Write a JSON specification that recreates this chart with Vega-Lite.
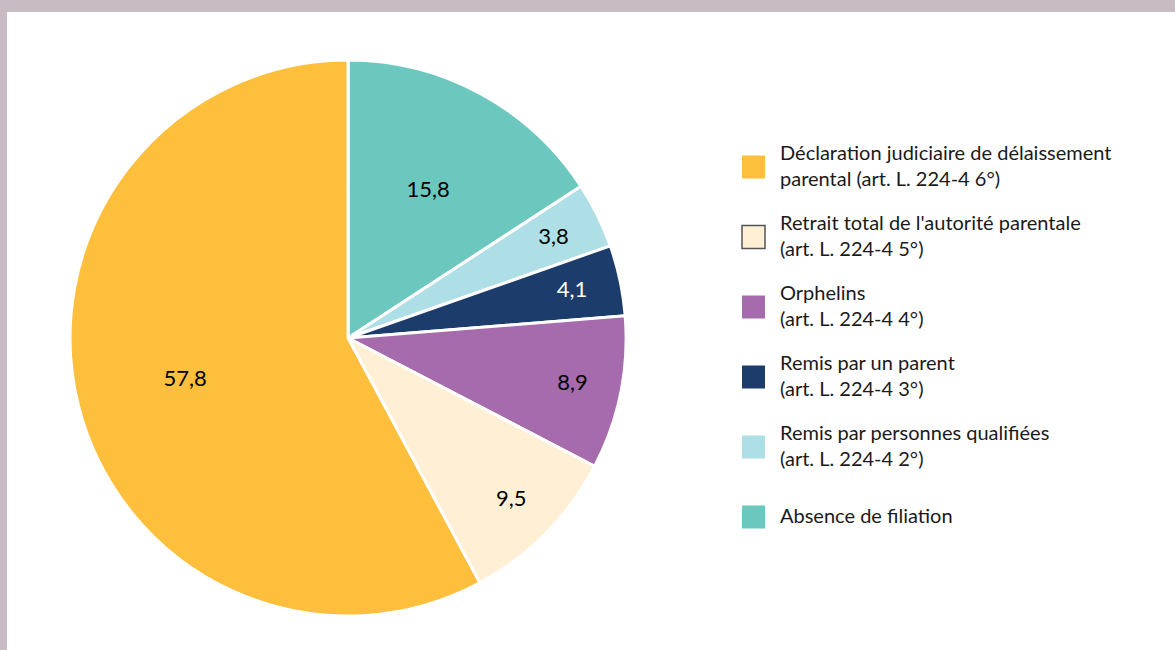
{
  "$schema": "https://vega.github.io/schema/vega-lite/v6.json",
  "width": 1168,
  "height": 638,
  "autosize": {"type": "none"},
  "padding": {"left": 7, "top": 12, "right": 0, "bottom": 0},
  "background": "#C8BBC3",
  "config": {
    "view": {"fill": "white", "stroke": null},
    "locale": {"number": {"decimal": ",", "thousands": "\u00a0", "grouping": [3], "currency": ["", " €"]}},
    "font": "Lato",
    "style": {"guide-label": {"lineHeight": 26, "dy": {"expr": "indexof(datum.label, '|') >= 0 ? -13 : 0"}}}
  },
  "data": {
    "values": [
      {"rang": 1, "categorie": "Absence de filiation", "pct": 15.8},
      {"rang": 2, "categorie": "Remis par personnes qualifiées|(art. L. 224-4 2°)", "pct": 3.8},
      {"rang": 3, "categorie": "Remis par un parent|(art. L. 224-4 3°)", "pct": 4.1},
      {"rang": 4, "categorie": "Orphelins|(art. L. 224-4 4°)", "pct": 8.9},
      {"rang": 5, "categorie": "Retrait total de l'autorité parentale|(art. L. 224-4 5°)", "pct": 9.5},
      {"rang": 6, "categorie": "Déclaration judiciaire de délaissement|parental (art. L. 224-4 6°)", "pct": 57.8}
    ]
  },
  "encoding": {
    "theta": {"field": "pct", "type": "quantitative", "stack": true},
    "order": {"field": "rang", "type": "quantitative"},
    "x": {"datum": 0.292, "type": "quantitative", "scale": {"domain": [0, 1], "nice": false, "zero": false}, "axis": null},
    "y": {"datum": 0.489, "type": "quantitative", "scale": {"domain": [0, 1], "nice": false, "zero": false}, "axis": null}
  },
  "layer": [
    {
      "mark": {"type": "arc", "outerRadius": 278, "stroke": "white", "strokeWidth": 3},
      "encoding": {
        "color": {
          "field": "categorie",
          "type": "nominal",
          "scale": {
            "domain": [
              "Déclaration judiciaire de délaissement|parental (art. L. 224-4 6°)",
              "Retrait total de l'autorité parentale|(art. L. 224-4 5°)",
              "Orphelins|(art. L. 224-4 4°)",
              "Remis par un parent|(art. L. 224-4 3°)",
              "Remis par personnes qualifiées|(art. L. 224-4 2°)",
              "Absence de filiation"
            ],
            "range": ["#FDBF3C", "#FFEFD5", "#A66BAD", "#1C3D6B", "#AEDFE6", "#6CC8BF"]
          },
          "legend": {
            "title": null,
            "orient": "none",
            "legendX": 734,
            "legendY": 129,
            "clipHeight": 52,
            "symbolType": "square",
            "symbolSize": 529,
            "symbolOpacity": 1,
            "symbolStrokeColor": {"expr": "indexof(datum.value, 'Retrait') === 0 ? '#555555' : 'transparent'"},
            "symbolStrokeWidth": 1.5,
            "labelFontSize": 20,
            "labelFont": "Lato",
            "labelColor": "#1a1a1a",
            "labelOffset": 14,
            "labelLimit": 0,
            "rowPadding": 18,
            "labelExpr": "split(datum.label, '|')"
          }
        }
      }
    },
    {
      "mark": {"type": "text", "fontSize": 22, "font": "Lato", "radius": {"expr": "datum.pct > 15 ? 168 : 229"}},
      "encoding": {
        "text": {"field": "pct", "type": "quantitative", "format": ".1f"},
        "color": {"condition": {"test": "datum.rang == 3", "value": "white"}, "value": "black"}
      }
    }
  ]
}
